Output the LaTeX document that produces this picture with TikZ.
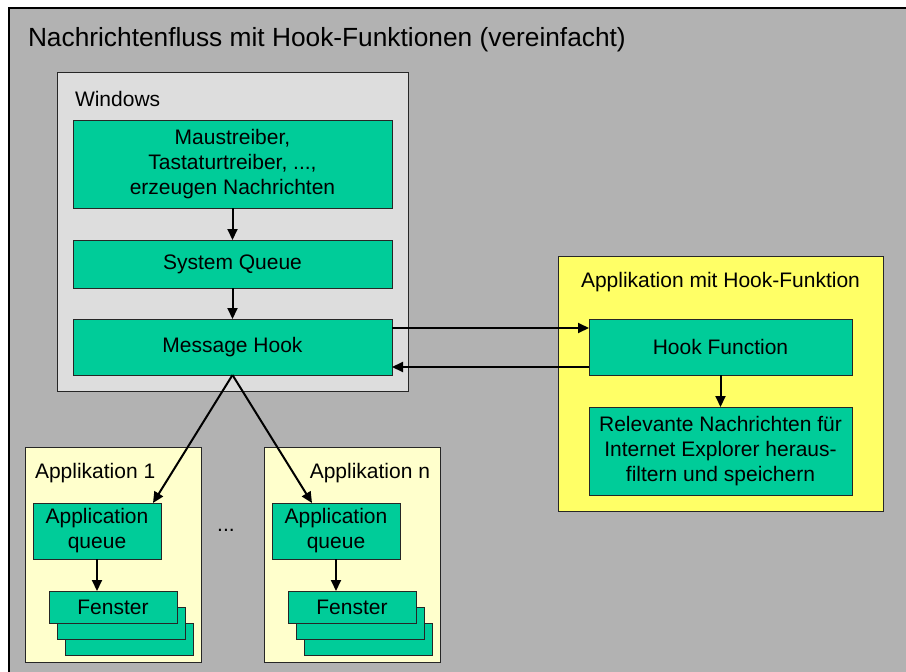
\documentclass[tikz,border=0pt]{standalone}
\usepackage{fontspec}
\setmainfont{Liberation Sans}
\usetikzlibrary{arrows.meta}

\definecolor{bggray}{HTML}{B2B2B2}
\definecolor{wingray}{HTML}{DDDDDD}
\definecolor{boxgreen}{HTML}{00CC99}
\definecolor{hookyellow}{HTML}{FFFF66}
\definecolor{appyellow}{HTML}{FFFFCC}

\tikzset{
  every node/.style={inner sep=0pt, outer sep=0pt, font=\fontsize{21}{25}\selectfont},
  container/.style={draw=black!85, line width=1pt, rectangle, anchor=center},
  greenbox/.style={draw=black!85, line width=1pt, fill=boxgreen, rectangle, align=center, anchor=center},
  flow/.style={draw=black, line width=2pt, -{Triangle[length=11pt,width=10pt]}},
}

\begin{document}
\begin{tikzpicture}[x=1pt, y=-1pt]
  \useasboundingbox (0,0) rectangle (906,672);
  \fill[white] (0,0) rectangle (906,672);

  % backdrop panel with title
  \draw[fill=bggray, draw=black, line width=1.3pt] (9,8) rectangle (930,700);
  \node[anchor=base west, font=\fontsize{26.3}{30}\selectfont] (title) at (28,46)
    {Nachrichtenfluss mit Hook-Funktionen (vereinfacht)};

  % Windows system part
  \node[container, fill=wingray, minimum width=351pt, minimum height=319pt] (win) at (232.5,231.5) {};
  \node[anchor=west] (winlabel) at (75,99) {Windows};
  \node[greenbox, minimum width=319pt, minimum height=88pt] (maus) at (232.5,164)
    {Maustreiber,\\Tastaturtreiber, ...,\\erzeugen Nachrichten};
  \node[greenbox, minimum width=319pt, minimum height=48pt] (sq) at (232.5,264) {System Queue};
  \node[greenbox, minimum width=319pt, minimum height=56pt] (mh) at (232.5,347) {Message Hook};

  % application containing the hook function
  \node[container, fill=hookyellow, minimum width=325pt, minimum height=255pt] (hookapp) at (720.5,383.5) {};
  \node (hooklabel) at (720.5,282) {Applikation mit Hook-Funktion};
  \node[greenbox, minimum width=263pt, minimum height=56pt] (hf) at (720.5,347) {Hook Function};
  \node[greenbox, minimum width=263pt, minimum height=88pt] (rel) at (720.5,451)
    {Relevante Nachrichten für\\Internet Explorer heraus-\\filtern und speichern};

  % ordinary applications
  \node[container, fill=appyellow, minimum width=176pt, minimum height=215pt] (app1) at (113,554.5) {};
  \node[container, fill=appyellow, minimum width=176pt, minimum height=215pt] (appn) at (352,554.5) {};
  \node[anchor=west] (app1label) at (35,473) {Applikation 1};
  \node[anchor=east] (appnlabel) at (430,473) {Applikation n};
  \node (dots) at (226,530) {...};

  \node[greenbox, minimum width=128pt, minimum height=56pt] (aq1) at (97,531) {Application\\queue};
  \node[greenbox, minimum width=128pt, minimum height=56pt] (aqn) at (336,531) {Application\\queue};

  % stacked windows
  \node[greenbox, minimum width=128pt, minimum height=32pt] (f1c) at (129,639) {};
  \node[greenbox, minimum width=128pt, minimum height=32pt] (f1b) at (121,623) {};
  \node[greenbox, minimum width=128pt, minimum height=32pt] (f1a) at (113,607) {Fenster};
  \node[greenbox, minimum width=128pt, minimum height=32pt] (fnc) at (368,639) {};
  \node[greenbox, minimum width=128pt, minimum height=32pt] (fnb) at (360,623) {};
  \node[greenbox, minimum width=128pt, minimum height=32pt] (fna) at (352,607) {Fenster};

  % message flow
  \draw[flow] (maus.south) -- (sq.north);
  \draw[flow] (sq.south) -- (mh.north);
  \draw[flow] ([yshift=19pt]mh.east) -- ([yshift=19pt]hf.west);
  \draw[flow] ([yshift=-20pt]hf.west) -- ([yshift=-20pt]mh.east);
  \draw[flow] (hf.south) -- (rel.north);
  \draw[flow] (mh.south) -- ([xshift=-8pt]aq1.north east);
  \draw[flow] (mh.south) -- ([xshift=40pt]aqn.north west);
  \draw[flow] (aq1.south) -- (aq1.south |- f1a.north);
  \draw[flow] (aqn.south) -- (aqn.south |- fna.north);
\end{tikzpicture}
\end{document}
